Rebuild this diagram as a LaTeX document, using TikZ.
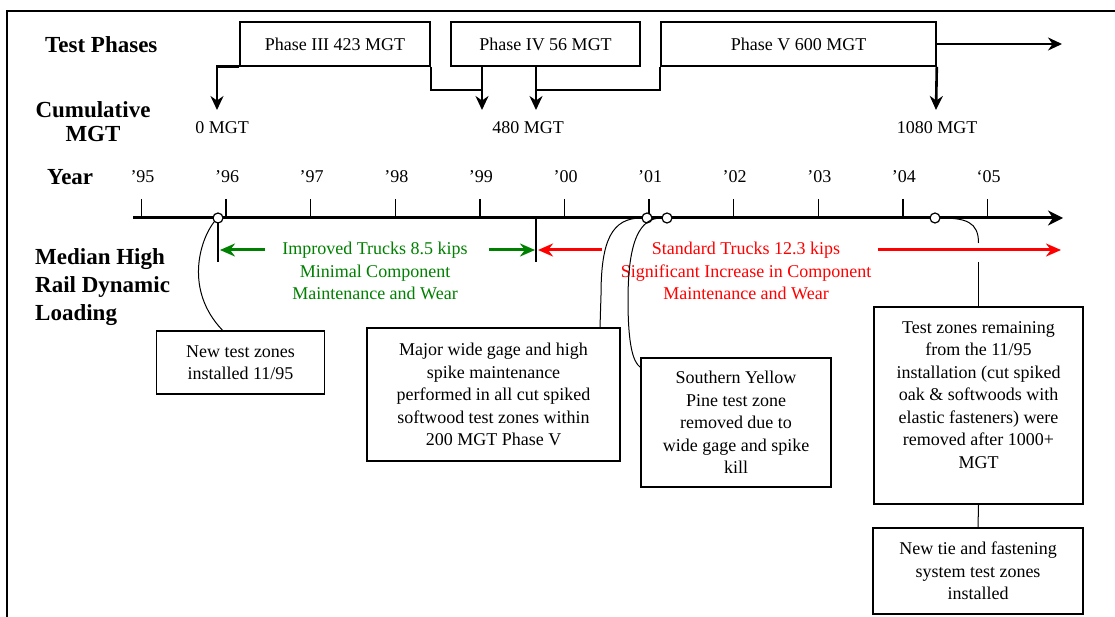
\documentclass[tikz,border=0pt]{standalone}
\usepackage{fontspec}
\setmainfont{Liberation Serif}
\usetikzlibrary{arrows.meta,calc}
\definecolor{tgreen}{RGB}{0,128,0}
\definecolor{tred}{RGB}{255,0,0}
\begin{document}
\begin{tikzpicture}[x=1pt,y=-1pt,
  every node/.style={font=\fontsize{18}{22.5}\selectfont, inner sep=0pt},
  lab/.style={font=\fontsize{23}{24}\selectfont\bfseries},
  lab3/.style={font=\fontsize{23}{28}\selectfont\bfseries},
  phasebox/.style={draw, line width=1.6pt, minimum height=44pt},
  callout/.style={draw, line width=1.5pt, align=center},
  phasearrow/.style={line width=2.6pt, -{Stealth[length=14pt,width=13pt]}},
  phaseline/.style={line width=1.8pt},
  conn/.style={line width=1pt},
  yeartick/.style={line width=1.5pt},
  evt/.style={circle, draw, fill=white, line width=1.2pt, minimum size=10pt, inner sep=0pt},
  garrow/.style={draw=tgreen, line width=3pt, -{Stealth[length=15pt,width=13pt]}},
  rarrow/.style={draw=tred, line width=3pt, -{Stealth[length=15pt,width=13pt]}},
]
\useasboundingbox (0,0) rectangle (1115,617);
% frame
\coordinate (fa) at (7,617);
\coordinate (fb) at (7,11);
\coordinate (fc) at (1115,11);
\draw[line width=2pt] (fa) -- (fb) -- (fc);

% row labels
\node[lab, anchor=west] (ltp) at (45,45) {Test Phases};
\node[lab, align=center] (lcm) at (93,122) {Cumulative\\MGT};
\node[lab, anchor=west] (lyr) at (47,177) {Year};
\node[lab3, align=left, anchor=west] (lmh) at (35,287) {Median High\\Rail Dynamic\\Loading};

% phase boxes
\node[phasebox, minimum width=190pt] (p3) at (335,44) {Phase III 423 MGT};
\node[phasebox, minimum width=189pt] (p4) at (545.5,44) {Phase IV 56 MGT};
\node[phasebox, minimum width=275pt] (p5) at (798.5,44) {Phase V 600 MGT};

\coordinate (a0) at (217,110);
\coordinate (a480a) at (482,110);
\coordinate (a480b) at (536,110);
\coordinate (a1080) at (936,110);
\coordinate (e3) at (482,90);
\coordinate (e5) at (536,90);
\coordinate (pend) at (1062,44);

\draw[phasearrow] (p3.south west) -| (a0);
\draw[phaseline] (p3.south east) |- (e3);
\draw[phasearrow] (p4.south -| a480a) -- (a480a);
\draw[phaseline] (p5.south west) |- (e5);
\draw[phasearrow] (p4.south -| a480b) -- (a480b);
\draw[phasearrow] (p5.south east) -- (a1080);
\draw[phasearrow] (p5.east) -- (pend);

\node (m0) at (222,128) {0 MGT};
\node (m480) at (528,128) {480 MGT};
\node (m1080) at (937,128) {1080 MGT};

% axis
\coordinate (axs) at (133,218);
\coordinate (axe) at (1063,218);
\draw[line width=3pt, -{Stealth[length=15pt,width=15pt]}] (axs) -- (axe);
\foreach \i/\lab in {0/’95,1/’96,2/’97,3/’98,4/’99,5/’00,6/’01,7/’02,8/’03,9/’04,10/‘05}{
  \coordinate (t\i) at ({141.5+84.6*\i},199);
  \coordinate (b\i) at ({141.5+84.6*\i},218);
  \draw[yeartick] (t\i) -- (b\i);
  \node (yr\i) at ({142.5+84.6*\i},177) {\lab};
}

% period markers
\coordinate (mk1t) at (218,218);
\coordinate (mk1) at (218,262);
\coordinate (mk2t) at (536,218);
\coordinate (mk2) at (536,262);
\draw[yeartick] (mk1t) -- (mk1);
\draw[yeartick] (mk2t) -- (mk2);

% loading arrows and text
\coordinate (g1s) at (265,250);
\coordinate (g1e) at (220,250);
\coordinate (g2s) at (489,250);
\coordinate (g2e) at (535,250);
\coordinate (r1s) at (602,250);
\coordinate (r1e) at (538,250);
\coordinate (r2s) at (878,250);
\coordinate (r2e) at (1061,250);
\draw[garrow] (g1s) -- (g1e);
\draw[garrow] (g2s) -- (g2e);
\draw[rarrow] (r1s) -- (r1e);
\draw[rarrow] (r2s) -- (r2e);
\node[text=tgreen, align=center] (gtext) at (375,271) {Improved Trucks 8.5 kips\\Minimal Component\\Maintenance and Wear};
\node[text=tred, align=center] (rtext) at (746,271) {Standard Trucks 12.3 kips\\Significant Increase in Component\\Maintenance and Wear};

% callout boxes
\node[callout, minimum width=168pt, minimum height=63pt] (nb) at (240.5,362.5) {New test zones\\installed 11/95};
\node[callout, minimum width=253pt, minimum height=133pt] (major) at (493.5,394.5) {Major wide gage and high\\spike maintenance\\performed in all cut spiked\\softwood test zones within\\200 MGT Phase V};
\node[callout, minimum width=190pt, minimum height=129pt] (syp) at (736,422.5) {Southern Yellow\\Pine test zone\\removed due to\\wide gage and spike\\kill};
\node[callout, minimum width=209pt, minimum height=197pt] (tzr) at (978.5,405.5) {\parbox[c][168pt][t]{205pt}{\centering Test zones remaining\\from the 11/95\\installation (cut spiked\\oak \& softwoods with\\elastic fasteners) were\\removed after 1000+\\MGT}};
\node[callout, minimum width=210pt, minimum height=86pt] (nt) at (978,571) {New tie and fastening\\system test zones\\installed};

% event circles
\node[evt] (c96) at (218,218) {};
\node[evt] (c01a) at (647,218) {};
\node[evt] (c01b) at (667,218) {};
\node[evt] (c04) at (935,218) {};

% connectors
\draw[conn] (c96.south west) .. controls (200,240) and (184,290) .. ([xshift=-18pt]nb.north);
\draw[conn] (c01a.west) .. controls (612,218) and (601,240) .. (601,295) -- ([xshift=106.5pt]major.north);
\draw[conn] (c01b.west) .. controls (640,218) and (628,240) .. (628,300) .. controls (628,345) and (633,362) .. ([yshift=-10pt]syp.north west);
\coordinate (g4a) at (978.5,243);
\coordinate (g4b) at (978.5,262);
\draw[conn] (c04.east) .. controls (966,218) and (978.5,222) .. (g4a);
\draw[conn] (g4b) -- (tzr.north);
\draw[conn] (tzr.south) -- (nt.north);
\end{tikzpicture}
\end{document}
